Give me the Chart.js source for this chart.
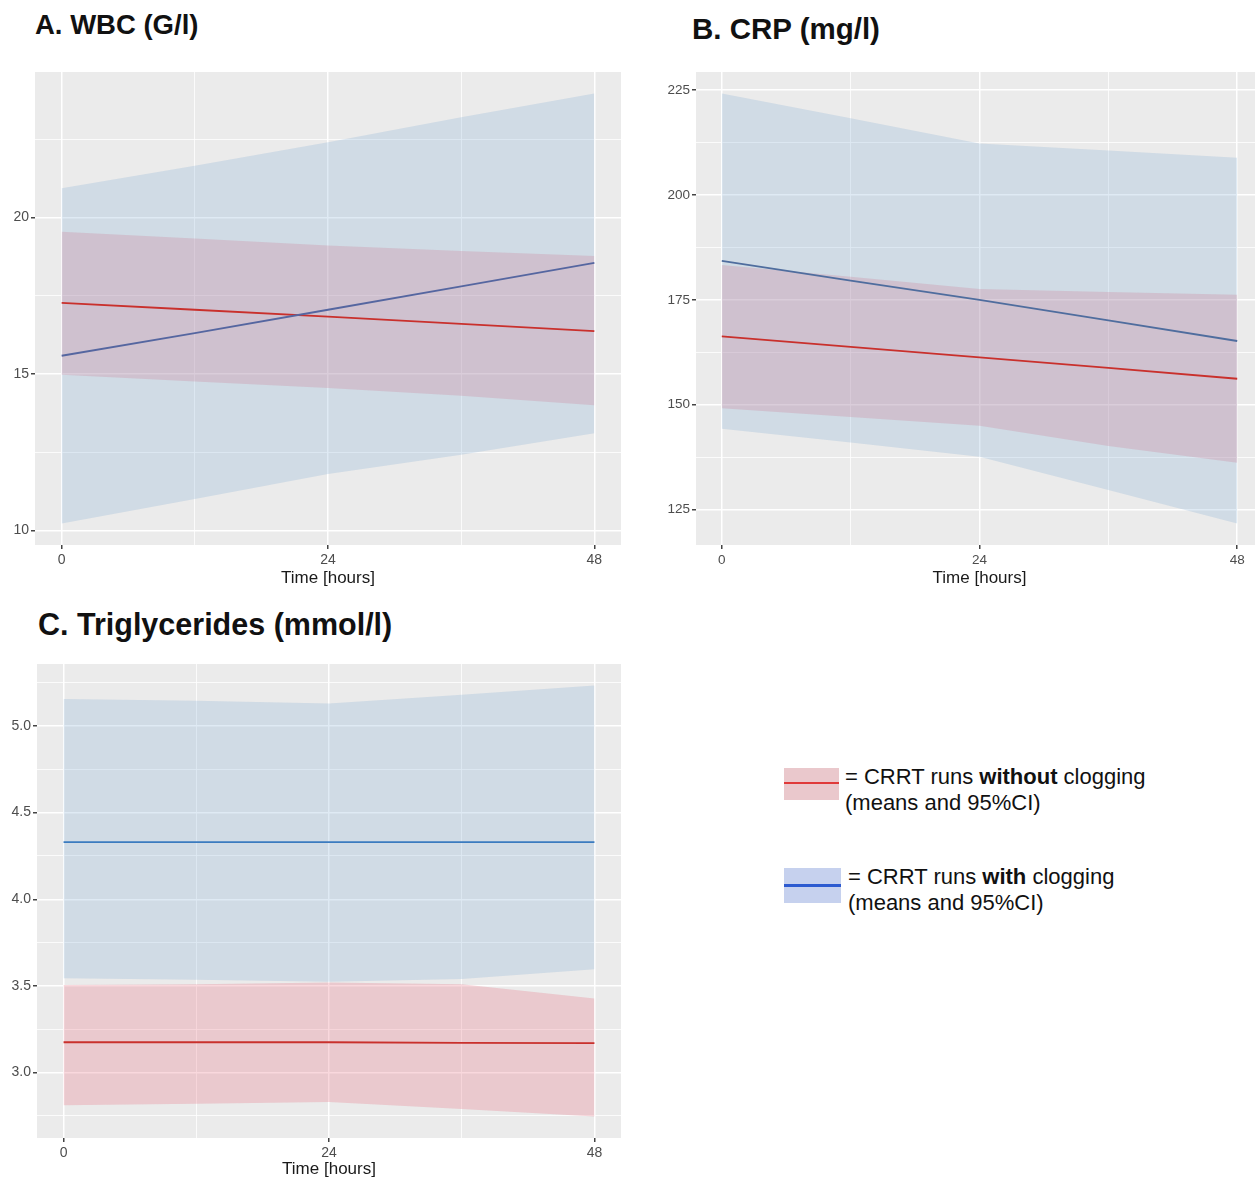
<!DOCTYPE html>
<html>
<head>
<meta charset="utf-8">
<script src="https://cdn.jsdelivr.net/npm/chart.js@4/dist/chart.umd.min.js"></script>
<style>
html,body{margin:0;padding:0;background:#fff;overflow:hidden;width:1255px;height:1180px;position:relative;}
canvas{position:absolute;}
.ptitle{position:absolute;font-family:"Liberation Sans",Arial,sans-serif;font-weight:bold;color:#111;white-space:nowrap;}
.sw{position:absolute;}
.swline{position:absolute;left:0;right:0;}
.ltxt{position:absolute;font-family:"Liberation Sans",Arial,sans-serif;font-size:22px;line-height:26px;color:#111;white-space:nowrap;}
</style>
</head>
<body>
<div class="ptitle" style="left:35px;top:11px;font-size:27.5px;line-height:27.5px;">A. WBC (G/l)</div>
<div class="ptitle" style="left:692px;top:14px;font-size:29.5px;line-height:29.5px;">B. CRP (mg/l)</div>
<div class="ptitle" style="left:38px;top:609px;font-size:30.5px;line-height:30.5px;">C. Triglycerides (mmol/l)</div>

<canvas id="cA" width="630" height="540" style="left:0;top:60px;"></canvas>
<canvas id="cB" width="630" height="540" style="left:640px;top:60px;"></canvas>
<canvas id="cC" width="630" height="528" style="left:0;top:652px;"></canvas>

<div class="sw" style="left:784px;top:768px;width:55px;height:32px;background:#eac8cc;">
  <div class="swline" style="top:14px;height:2px;background:#e03a3a;"></div>
</div>
<div class="ltxt" style="left:845px;top:764px;">= CRRT runs <b>without</b> clogging<br>(means and 95%CI)</div>
<div class="sw" style="left:784px;top:868px;width:57px;height:35px;background:#c6d1ee;">
  <div class="swline" style="top:16px;height:3px;background:#2d5bd0;"></div>
</div>
<div class="ltxt" style="left:848px;top:864px;">= CRRT runs <b>with</b> clogging<br>(means and 95%CI)</div>

<script>
// ---- shared x axis ----
const hours = [0, 12, 24, 36, 48];
const xTickLabels = [0, 24, 48];

// ---- A. WBC (G/l) ----
const wbcWithoutMean = [17.27, 17.05, 16.83, 16.60, 16.37];
const wbcWithoutLow  = [14.97, 14.76, 14.55, 14.30, 14.00];
const wbcWithoutHigh = [19.54, 19.33, 19.10, 18.93, 18.77];
const wbcWithMean    = [15.58, 16.30, 17.05, 17.80, 18.55];
const wbcWithLow     = [10.22, 11.00, 11.80, 12.42, 13.10];
const wbcWithHigh    = [20.93, 21.65, 22.40, 23.20, 23.96];
const wbcYTicks      = [10, 15, 20];
const wbcYLabels     = ['10', '15', '20'];

// ---- B. CRP (mg/l) ----
const crpWithoutMean = [166.3, 163.8, 161.3, 158.8, 156.2];
const crpWithoutLow  = [149.2, 147.1, 145.0, 140.2, 136.2];
const crpWithoutHigh = [183.3, 180.5, 177.6, 176.9, 176.2];
const crpWithMean    = [184.3, 179.6, 175.0, 170.1, 165.2];
const crpWithLow     = [144.3, 141.0, 137.6, 129.7, 121.7];
const crpWithHigh    = [224.2, 218.3, 212.3, 210.6, 208.9];
const crpYTicks      = [125, 150, 175, 200, 225];
const crpYLabels     = ['125', '150', '175', '200', '225'];

// ---- C. Triglycerides (mmol/l) ----
const tgWithoutMean = [3.175, 3.175, 3.175, 3.172, 3.170];
const tgWithoutLow  = [2.812, 2.820, 2.830, 2.790, 2.747];
const tgWithoutHigh = [3.505, 3.510, 3.520, 3.510, 3.427];
const tgWithMean    = [4.330, 4.330, 4.330, 4.330, 4.330];
const tgWithLow     = [3.544, 3.535, 3.524, 3.540, 3.596];
const tgWithHigh    = [5.155, 5.146, 5.130, 5.180, 5.233];
const tgYTicks      = [3.0, 3.5, 4.0, 4.5, 5.0];
const tgYLabels     = ['3.0', '3.5', '4.0', '4.5', '5.0'];

const FONT = '"Liberation Sans", Arial, sans-serif';
const RED_LINE = '#c9302c';
const RED_FILL = 'rgba(231,99,119,0.25)';
const BLUE_FILL = 'rgba(127,171,211,0.25)';

const panelBg = {
  id: 'panelBg',
  beforeDraw(chart) {
    const a = chart.chartArea, c = chart.ctx;
    c.save(); c.fillStyle = '#ebebeb';
    c.fillRect(a.left, a.top, a.right - a.left, a.bottom - a.top);
    c.restore();
  }
};

function pts(ys) { return hours.map((h, i) => ({x: h, y: ys[i]})); }

function build(id, s) {
  const all = [].concat(s.wL, s.wH, s.oL, s.oH);
  const lo = Math.min(...all), hi = Math.max(...all);
  const ex = (hi - lo) * 0.05;
  const step = s.yTicks[1] - s.yTicks[0];
  const yAll = [];
  for (let v = s.yTicks[0] - step / 2; v <= hi + ex + 1e-9; v += step / 2) {
    if (v >= lo - ex) yAll.push(Math.round(v * 1000) / 1000);
  }
  const isMajorY = v => s.yTicks.some(t => Math.abs(t - v) < 1e-6);
  const isMajorX = v => xTickLabels.includes(v);

  new Chart(document.getElementById(id), {
    type: 'line',
    data: {
      datasets: [
        {data: pts(s.wM), borderColor: s.blueLine, borderWidth: 1.8, pointRadius: 0, fill: false, order: 0, tension: 0},
        {data: pts(s.oM), borderColor: RED_LINE, borderWidth: 1.8, pointRadius: 0, fill: false, order: 0, tension: 0},
        {data: pts(s.wH), borderWidth: 0, borderColor: 'transparent', pointRadius: 0, backgroundColor: BLUE_FILL, fill: '+1', order: 1},
        {data: pts(s.wL), borderWidth: 0, borderColor: 'transparent', pointRadius: 0, fill: false, order: 1},
        {data: pts(s.oH), borderWidth: 0, borderColor: 'transparent', pointRadius: 0, backgroundColor: RED_FILL, fill: '+1', order: 2},
        {data: pts(s.oL), borderWidth: 0, borderColor: 'transparent', pointRadius: 0, fill: false, order: 2}
      ]
    },
    options: {
      responsive: false,
      animation: false,
      devicePixelRatio: 1,
      layout: {padding: {left: 0, top: 12, right: s.padR, bottom: 0}},
      plugins: {legend: {display: false}, tooltip: {enabled: false}},
      scales: {
        x: {
          type: 'linear', min: -2.4, max: 50.4,
          afterBuildTicks: sc => { sc.ticks = hours.map(v => ({value: v})); },
          afterFit: sc => { sc.height = s.xH; },
          border: {display: false},
          grid: {
            color: '#ffffff',
            lineWidth: c => isMajorX(c.tick.value) ? 1.5 : 0.8,
            tickColor: c => isMajorX(c.tick.value) ? '#444' : 'rgba(0,0,0,0)',
            tickLength: 4, drawTicks: true
          },
          ticks: {
            autoSkip: false, maxRotation: 0, padding: 3,
            color: '#4d4d4d', font: {family: FONT, size: s.tickSize},
            callback: v => isMajorX(v) ? String(v) : ''
          },
          title: {display: true, text: 'Time [hours]', color: '#1a1a1a',
                  font: {family: FONT, size: 17}, padding: {top: 0, bottom: s.titlePad}}
        },
        y: {
          type: 'linear', min: lo - ex, max: hi + ex,
          afterBuildTicks: sc => { sc.ticks = yAll.map(v => ({value: v})); },
          afterFit: sc => { sc.width = s.yW; },
          border: {display: false},
          grid: {
            color: '#ffffff',
            lineWidth: c => isMajorY(c.tick.value) ? 1.5 : 0.8,
            tickColor: c => isMajorY(c.tick.value) ? '#444' : 'rgba(0,0,0,0)',
            tickLength: 4, drawTicks: true
          },
          ticks: {
            autoSkip: false, padding: 2,
            color: '#4d4d4d', font: {family: FONT, size: s.tickSize},
            callback: v => {
              const i = s.yTicks.findIndex(t => Math.abs(t - v) < 1e-6);
              return i >= 0 ? s.yLabels[i] : '';
            }
          }
        }
      }
    },
    plugins: [panelBg]
  });
}

build('cA', {wM: wbcWithMean, wL: wbcWithLow, wH: wbcWithHigh, oM: wbcWithoutMean, oL: wbcWithoutLow, oH: wbcWithoutHigh,
  yTicks: wbcYTicks, yLabels: wbcYLabels, blueLine: '#5566a0', yW: 35, xH: 55, padR: 9, titlePad: 11, tickSize: 14});
build('cB', {wM: crpWithMean, wL: crpWithLow, wH: crpWithHigh, oM: crpWithoutMean, oL: crpWithoutLow, oH: crpWithoutHigh,
  yTicks: crpYTicks, yLabels: crpYLabels, blueLine: '#4f6d9e', yW: 56, xH: 55, padR: 7, titlePad: 11, tickSize: 13.5});
build('cC', {wM: tgWithMean, wL: tgWithLow, wH: tgWithHigh, oM: tgWithoutMean, oL: tgWithoutLow, oH: tgWithoutHigh,
  yTicks: tgYTicks, yLabels: tgYLabels, blueLine: '#3b7bbf', yW: 37, xH: 42, padR: 9, titlePad: 0, tickSize: 14});
</script>
</body>
</html>
